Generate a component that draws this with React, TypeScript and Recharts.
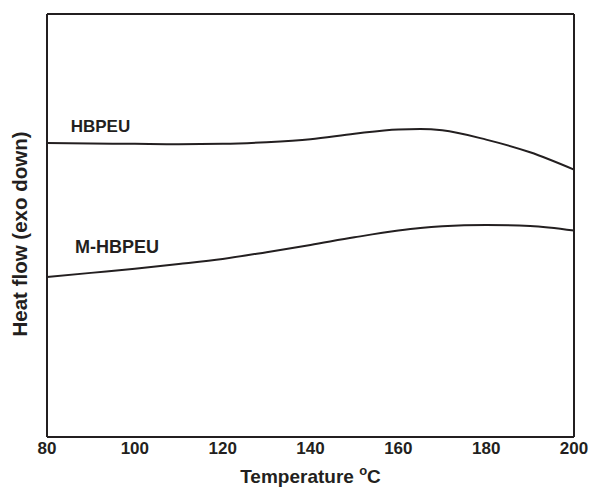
import { LineChart, Line, XAxis, YAxis, ReferenceLine, ReferenceDot } from 'recharts';

const temps = [80, 90, 100, 110, 120, 130, 140, 150, 160, 165, 170, 180, 190, 200];
const hbpeu = [69.5, 69.4, 69.3, 69.2, 69.3, 69.7, 70.4, 71.7, 72.7, 72.8, 72.5, 70.3, 67.3, 63.2];
const mHbpeu = [37.8, 38.8, 39.8, 40.9, 42.1, 43.7, 45.4, 47.2, 48.8, 49.4, 49.8, 50.1, 49.9, 48.8];
const xTicks = [80, 100, 120, 140, 160, 180, 200];

const data = temps.map((t, i) => ({ t, hbpeu: hbpeu[i], mHbpeu: mHbpeu[i] }));

const ink = '#231f20';
const font = 'Liberation Sans, Arial, sans-serif';

const seriesLabel = (text: string, size: number) => (props: any) => {
  const { viewBox } = props;
  return (
    <text x={viewBox.x} y={viewBox.y} fontFamily={font} fontWeight="bold" fontSize={size} fill={ink}>
      {text}
    </text>
  );
};

export default function App() {
  return (
    <div style={{ position: 'absolute', left: 0, top: 0 }}>
      <LineChart width={590} height={487} data={data} margin={{ top: 14, right: 16, bottom: 0, left: 0 }}>
        <XAxis
          dataKey="t"
          type="number"
          domain={[80, 200]}
          ticks={xTicks}
          tickLine={false}
          tickSize={0}
          tickMargin={5}
          height={50}
          axisLine={{ stroke: ink, strokeWidth: 2 }}
          tick={{ fill: ink, fontSize: 17, fontWeight: 'bold', fontFamily: font }}
          label={{
            content: (props: any) => {
              const vb = props.viewBox;
              return (
                <text x={vb.x + vb.width / 2} y={483} textAnchor="middle" fontFamily={font} fontWeight="bold" fontSize={19} fill={ink}>
                  Temperature <tspan fontSize={13} dy={-8}>o</tspan><tspan dy={8}>C</tspan>
                </text>
              );
            },
          }}
        />
        <YAxis
          type="number"
          domain={[0, 100]}
          tick={false}
          tickLine={false}
          width={47}
          axisLine={{ stroke: ink, strokeWidth: 2 }}
          label={{
            content: () => {
              const cx = 27;
              const cy = 234;
              return (
                <text x={cx} y={cy} transform={`rotate(-90 ${cx} ${cy})`} textAnchor="middle" fontFamily={font} fontWeight="bold" fontSize={20.5} fill={ink}>
                  Heat flow (exo down)
                </text>
              );
            },
          }}
        />
        <ReferenceLine y={100} stroke={ink} strokeWidth={2} />
        <ReferenceLine x={200} stroke={ink} strokeWidth={2} />
        <Line type="monotone" dataKey="hbpeu" stroke={ink} strokeWidth={2} dot={false} isAnimationActive={false} />
        <Line type="monotone" dataKey="mHbpeu" stroke={ink} strokeWidth={2} dot={false} isAnimationActive={false} />
        <ReferenceDot x={85.4} y={72.1} r={0} fill="none" stroke="none" label={{ content: seriesLabel('HBPEU', 17) }} />
        <ReferenceDot x={86.4} y={43.6} r={0} fill="none" stroke="none" label={{ content: seriesLabel('M-HBPEU', 18) }} />
      </LineChart>
    </div>
  );
}
